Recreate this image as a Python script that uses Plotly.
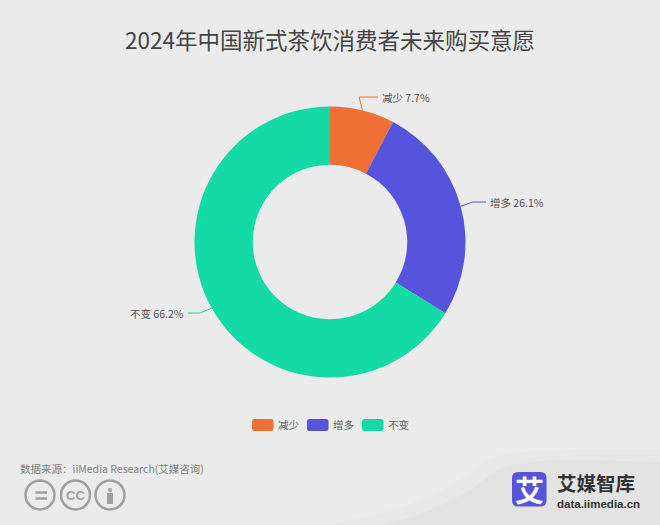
import math
import plotly.graph_objects as go

title = "2024年中国新式茶饮消费者未来购买意愿"
source = "数据来源：iiMedia Research(艾媒咨询)"
categories = ["减少", "增多", "不变"]
values = [7.7, 26.1, 66.2]
colors = ["#ef6f34", "#5653dc", "#14dba6"]

W, H = 660, 525
FONT = "Noto Sans CJK SC"
CX, CY, R = 330, 242, 135.5


def px(x):
    return x / W


def py(y):
    return 1 - y / H


def text(s, x, y, size, color, anchor="center", family=FONT):
    return dict(text=s, x=px(x), y=py(y), xref="paper", yref="paper", xanchor=anchor, yanchor="middle",
                showarrow=False, font=dict(family=family, size=size, color=color))


def round_rect(x0, y0, x1, y1, r, color):
    path = (f"M {px(x0 + r)} {py(y0)} L {px(x1 - r)} {py(y0)} Q {px(x1)} {py(y0)} {px(x1)} {py(y0 + r)} "
            f"L {px(x1)} {py(y1 - r)} Q {px(x1)} {py(y1)} {px(x1 - r)} {py(y1)} "
            f"L {px(x0 + r)} {py(y1)} Q {px(x0)} {py(y1)} {px(x0)} {py(y1 - r)} "
            f"L {px(x0)} {py(y0 + r)} Q {px(x0)} {py(y0)} {px(x0 + r)} {py(y0)} Z")
    return dict(type="path", xref="paper", yref="paper", line=dict(width=0), fillcolor=color, path=path)


fig = go.Figure()
fig.add_trace(go.Pie(
    labels=categories, values=values, hole=0.57, sort=False, direction="clockwise",
    rotation=0, textinfo="none", hoverinfo="label+percent",
    marker=dict(colors=colors, line=dict(width=0)),
    domain=dict(x=[px(CX - R), px(CX + R)], y=[py(CY + R), py(CY - R)]),
    showlegend=False,
))

shapes = []
annots = []

# soft wave in the bottom right corner, two layers so the edge is not too hard
shapes.append(dict(type="path", xref="paper", yref="paper", layer="below", line=dict(width=0),
                   fillcolor="#e8e8e8",
                   path=f"M {px(320)} {py(525)} C {px(400)} {py(515)} {px(450)} {py(490)} {px(480)} {py(465)} "
                        f"C {px(495)} {py(452)} {px(515)} {py(449)} {px(660)} {py(449)} L {px(660)} {py(525)} Z"))
shapes.append(dict(type="path", xref="paper", yref="paper", layer="below", line=dict(width=0),
                   fillcolor="#e3e3e3",
                   path=f"M {px(380)} {py(525)} C {px(430)} {py(515)} {px(465)} {py(495)} {px(490)} {py(475)} "
                        f"C {px(510)} {py(460)} {px(540)} {py(458)} {px(660)} {py(462)} L {px(660)} {py(525)} Z"))

# leader lines and labels, placed from the slice mid angles
label_x = [380, 488, 186]
label_y = [97, 202, 313]
anchors = ["left", "left", "right"]
cum = 0
for name, v, c, lx, ly, anc in zip(categories, values, colors, label_x, label_y, anchors):
    mid = (cum + v / 2) / 100 * 2 * math.pi
    cum += v
    sx, sy = CX + R * math.sin(mid), CY - R * math.cos(mid)
    ex = sx + (ly - sy) * math.tan(mid) if abs(math.tan(mid)) < 1 else sx + (lx - sx) * 0.45
    endx = lx - 2 if anc == "left" else lx + 2
    shapes.append(dict(type="path", xref="paper", yref="paper", line=dict(color=c, width=1),
                       path=f"M {px(sx)} {py(sy)} L {px(ex)} {py(ly)} L {px(endx)} {py(ly)}"))
    annots.append(text(f"{name} {v}%", lx, ly, 10.5, "#505050", anc))

# legend
leg_x = [252, 307, 362]
for name, c, lx in zip(categories, colors, leg_x):
    shapes.append(round_rect(lx, 419, lx + 21.5, 431, 2.5, c))
    annots.append(text(name, lx + 24, 424, 10.5, "#606060", "left"))

# source line
annots.append(text(source, 18, 468, 10.5, "#808080", "left"))

# cc badges
GREY = "#a0a0a0"
for bx in [40, 75.5, 110]:
    shapes.append(dict(type="circle", xref="paper", yref="paper", line=dict(color=GREY, width=2.5),
                       x0=px(bx - 14.5), x1=px(bx + 14.5), y0=py(509.5), y1=py(480.5)))
for yy in [492.5, 498.5]:
    shapes.append(dict(type="line", xref="paper", yref="paper", line=dict(color=GREY, width=2.5),
                       x0=px(35.5), x1=px(47), y0=py(yy), y1=py(yy)))
annots.append(text("<b>CC</b>", 75.5, 495, 13, GREY, family="Liberation Sans"))
shapes.append(dict(type="rect", xref="paper", yref="paper", line=dict(width=0), fillcolor=GREY,
                   x0=px(107), x1=px(113), y0=py(504), y1=py(493)))
shapes.append(dict(type="circle", xref="paper", yref="paper", line=dict(width=0), fillcolor=GREY,
                   x0=px(108), x1=px(112), y0=py(492), y1=py(488)))

# logo
shapes.append(round_rect(512, 472, 546.5, 506.5, 6, "#5653dc"))
annots.append(text("<b>艾</b>", 529, 489, 29, "#ffffff"))
annots.append(text("<b>艾媒智库</b>", 555, 482, 19.5, "#333333", "left"))
annots.append(text("<b>data.iimedia.cn</b>", 555, 503.5, 11.5, "#333333", "left", "Liberation Sans"))

annots.append(text(title, 330, 39, 22.5, "#444444"))

fig.update_layout(
    width=W, height=H, margin=dict(l=0, r=0, t=0, b=0),
    paper_bgcolor="#ebebeb", plot_bgcolor="#ebebeb",
    shapes=shapes, annotations=annots,
)

fig.write_html("out.html", config=dict(displayModeBar=False),
               post_script="document.body.style.margin='0';document.body.style.background='#ebebeb';")
